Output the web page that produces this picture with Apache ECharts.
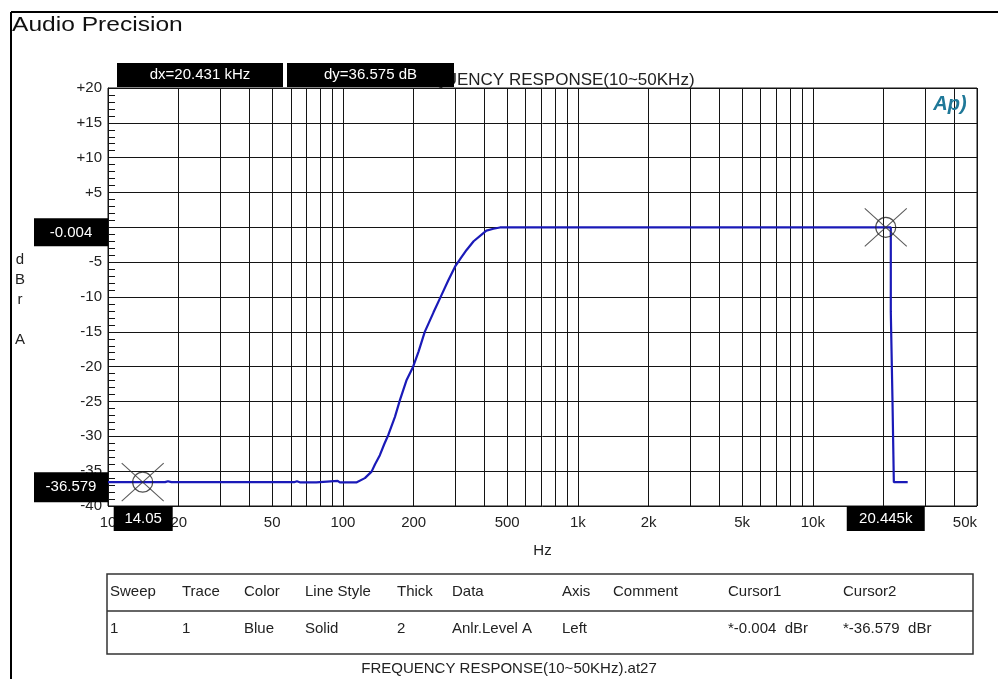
<!DOCTYPE html>
<html>
<head>
<meta charset="utf-8">
<script src="https://cdn.jsdelivr.net/npm/echarts@6/dist/echarts.min.js"></script>
<style>
html,body{margin:0;padding:0;background:#fff;}
#c{width:998px;height:679px;}
</style>
</head>
<body>
<div id="c"></div>
<script>
// ---- data ----
const freqHz = [10, 14.05, 17.5, 18, 18.6, 62, 63.7, 65.5, 77, 78, 95, 97, 114, 116, 124, 132.4, 137, 143.6, 150, 156, 166.5, 174.8, 186.7, 199, 210, 223, 243, 263, 281, 300, 318, 336, 360, 395, 408, 437, 466, 500, 600, 1000, 5000, 20445, 21480, 21480, 21830, 21830, 22130, 22130, 25350];
const levelDb = [-36.58, -36.579, -36.58, -36.45, -36.58, -36.58, -36.45, -36.6, -36.6, -36.38, -36.38, -36.6, -36.62, -36.4, -36.0, -35.07, -34.0, -32.7, -31.1, -29.8, -27.2, -24.8, -21.9, -20.0, -17.8, -15.0, -12.2, -9.7, -7.6, -5.65, -4.4, -3.25, -2.0, -0.86, -0.48, -0.2, -0.02, -0.004, -0.004, -0.004, -0.004, -0.004, -0.004, -12.1, -12.2, -24.5, -24.6, -36.58, -36.58];

const xLabelValues = [10, 20, 50, 100, 200, 500, 1000, 2000, 5000, 10000, 20000, 50000];
const xGridValues = [10, 20, 30, 40, 50, 60, 70, 80, 90, 100, 200, 300, 400, 500, 600, 700, 800, 900,
  1000, 2000, 3000, 4000, 5000, 6000, 7000, 8000, 9000, 10000, 20000, 30000, 40000, 50000];
const yMin = -40, yMax = 20, yStep = 5;

const cursor1 = [20445, -0.004];
const cursor2 = [14.05, -36.579];
const cursor1Label = '-0.004';
const cursor2Label = '-36.579';
const cursor1XLabel = '20.445k';
const cursor2XLabel = '14.05';
const dxText = 'dx=20.431 kHz';
const dyText = 'dy=36.575 dB';
const chartTitle = 'FREQUENCY RESPONSE(10~50KHz)';
const footerText = 'FREQUENCY RESPONSE(10~50KHz).at27';

const tableHeader = ['Sweep', 'Trace', 'Color', 'Line Style', 'Thick', 'Data', 'Axis', 'Comment', 'Cursor1', 'Cursor2'];
const tableRow = ['1', '1', 'Blue', 'Solid', '2', 'Anlr.Level A', 'Left', '', '*-0.004  dBr', '*-36.579  dBr'];

// ---- chart ----
const FONT = 'Liberation Sans, Arial, sans-serif';
const GRIDC = '#141414';
const chart = echarts.init(document.getElementById('c'), null, {renderer: 'canvas'});
const lineData = freqHz.map((f, i) => [f, levelDb[i]]);

const option = {
  animation: false,
  backgroundColor: '#fff',
  grid: {left: 108, top: 88, right: 21, bottom: 173, show: true, borderColor: GRIDC, borderWidth: 1, containLabel: false},
  xAxis: {
    type: 'log', logBase: 10, min: 10, max: 50000,
    axisLine: {show: true, lineStyle: {color: GRIDC, width: 1}},
    axisTick: {show: false, customValues: xGridValues},
    splitLine: {show: true, lineStyle: {color: GRIDC, width: 1}},
    minorTick: {show: false}, minorSplitLine: {show: false},
    axisLabel: {
      customValues: xLabelValues, color: '#222', fontFamily: FONT, fontSize: 15, margin: 9,
      alignMaxLabel: 'right',
      formatter: v => v >= 1000 ? (v / 1000) + 'k' : String(v)
    },
    name: 'Hz', nameLocation: 'middle', nameGap: 37,
    nameTextStyle: {color: '#222', fontFamily: FONT, fontSize: 15}
  },
  yAxis: {
    type: 'value', min: yMin, max: yMax, interval: yStep,
    axisLine: {show: true, lineStyle: {color: GRIDC, width: 1}},
    axisTick: {show: true, inside: true, length: 7, lineStyle: {color: GRIDC}},
    minorTick: {show: true, splitNumber: 5, length: 7, lineStyle: {color: GRIDC}},
    splitLine: {show: true, lineStyle: {color: GRIDC, width: 1}},
    axisLabel: {color: '#222', fontFamily: FONT, fontSize: 15, margin: 6,
      formatter: v => v > 0 ? '+' + v : String(v)}
  },
  series: [
    {type: 'line', data: lineData, showSymbol: false, lineStyle: {color: '#1a1ab8', width: 2.2}, z: 3, silent: true},
    {type: 'scatter', data: [cursor1, cursor2], symbol: 'circle', symbolSize: 20,
      itemStyle: {color: 'rgba(0,0,0,0)', borderColor: '#222', borderWidth: 1.2}, z: 5, silent: true},
    {type: 'scatter', data: [cursor1, cursor2], symbol: 'path://M0,0L10,10M10,0L0,10', symbolSize: [42, 38],
      itemStyle: {color: 'none', borderColor: '#333', borderWidth: 1}, z: 5, silent: true}
  ]
};
chart.setOption(option);

const p1 = chart.convertToPixel({gridIndex: 0}, cursor1);
const p2 = chart.convertToPixel({gridIndex: 0}, cursor2);
const rect = chart.getModel().getComponent('grid', 0).coordinateSystem.getRect();
const gx0 = rect.x, gy1 = rect.y + rect.height;

function box(x, y, w, h, text, z) {
  return [
    {type: 'rect', shape: {x: x, y: y, width: w, height: h}, style: {fill: '#000'}, z: z || 100},
    {type: 'text', x: x + w / 2, y: y + h / 2, style: {text: text, fill: '#fff', font: '15px ' + FONT, align: 'center', verticalAlign: 'middle'}, z: (z || 100) + 1}
  ];
}

const colX = [110, 182, 244, 305, 397, 452, 562, 613, 728, 843];
const g = [];
// outer frame
g.push({type: 'line', shape: {x1: 11, y1: 12, x2: 998, y2: 12}, style: {stroke: '#000', lineWidth: 2}, z: 50});
g.push({type: 'line', shape: {x1: 11, y1: 12, x2: 11, y2: 679}, style: {stroke: '#000', lineWidth: 2}, z: 50});
g.push({type: 'text', x: 12, y: 25, scaleX: 1.17, style: {text: 'Audio Precision', fill: '#111', font: '21px ' + FONT, verticalAlign: 'middle'}, z: 50});
// title (partly under dy box)
g.push({type: 'text', x: 546, y: 80, style: {text: chartTitle, fill: '#222', font: '17px ' + FONT, align: 'center', verticalAlign: 'middle'}, z: 50});
g.push(...box(117, 63, 166, 24, dxText));
g.push(...box(287, 63, 167, 24, dyText));
// vertical y-axis name
g.push({type: 'text', x: 20, y: 250, style: {text: 'd\nB\nr\n\nA', fill: '#222', font: '15px ' + FONT, align: 'center', lineHeight: 20}, z: 50});
// AP logo
g.push({type: 'text', x: 950, y: 104, style: {text: 'Ap)', fill: '#1f7898', font: 'italic bold 20px ' + FONT, align: 'center', verticalAlign: 'middle'}, z: 50});
// cursor value boxes
g.push(...box(34, p1[1] - 9, gx0 - 34, 28, cursor1Label));
g.push(...box(34, p2[1] - 10, gx0 - 34, 30, cursor2Label));
g.push(...box(p2[0] - 29, gy1, 59, 25, cursor2XLabel));
g.push(...box(p1[0] - 39, gy1, 78, 25, cursor1XLabel));
// table
g.push({type: 'rect', shape: {x: 107, y: 574, width: 866, height: 80}, style: {fill: 'none', stroke: '#333', lineWidth: 1.5}, z: 50});
g.push({type: 'line', shape: {x1: 107, y1: 611, x2: 973, y2: 611}, style: {stroke: '#333', lineWidth: 1.5}, z: 50});
tableHeader.forEach((t, i) => g.push({type: 'text', x: colX[i], y: 592, style: {text: t, fill: '#222', font: '15px ' + FONT, verticalAlign: 'middle'}, z: 50}));
tableRow.forEach((t, i) => g.push({type: 'text', x: colX[i], y: 629, style: {text: t, fill: '#222', font: '15px ' + FONT, verticalAlign: 'middle'}, z: 50}));
g.push({type: 'text', x: 509, y: 669, style: {text: footerText, fill: '#222', font: '15px ' + FONT, align: 'center', verticalAlign: 'middle'}, z: 50});

chart.setOption({graphic: {elements: g}});
</script>
</body>
</html>
